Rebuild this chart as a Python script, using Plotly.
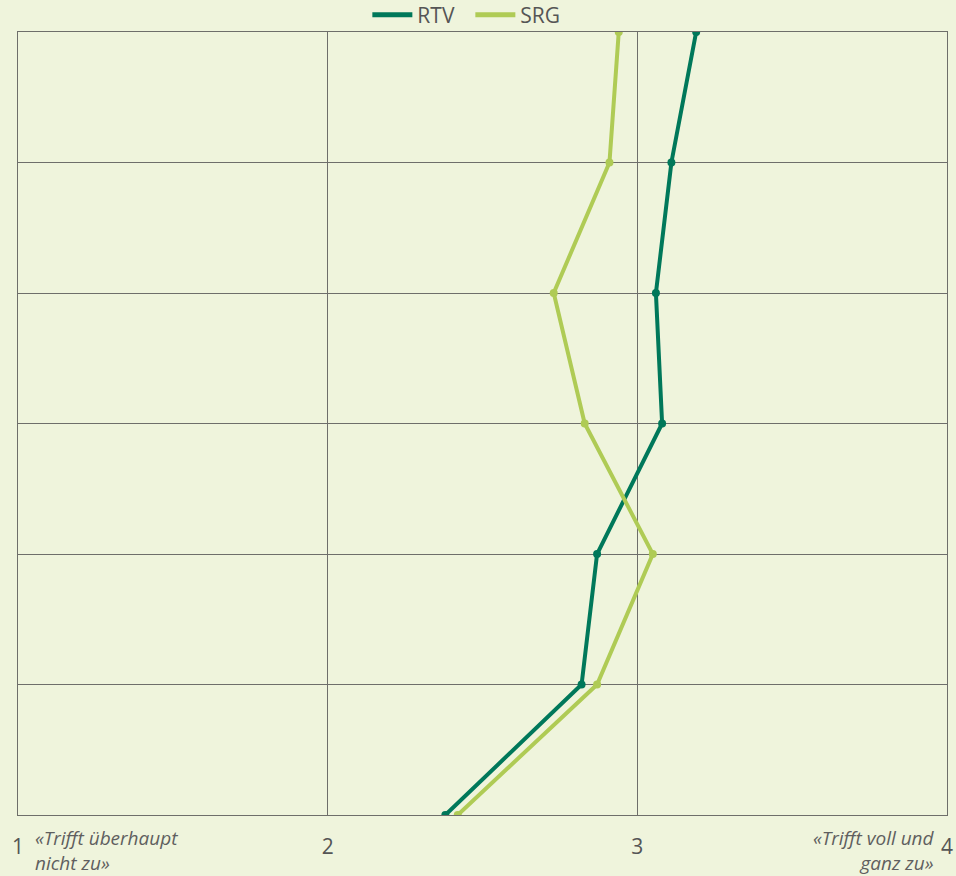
import plotly.graph_objects as go

categories = ["Item 1", "Item 2", "Item 3", "Item 4", "Item 5", "Item 6", "Item 7"]
rtv_values = [3.19, 3.11, 3.06, 3.08, 2.87, 2.82, 2.38]
srg_values = [2.94, 2.91, 2.73, 2.83, 3.05, 2.87, 2.42]
tick_values = [1, 2, 3, 4]
tick_labels = ["1", "2", "3", "4"]
low_label = "«Trifft überhaupt<br>nicht zu»"
high_label = "«Trifft voll und<br>ganz zu»"

BG = "#eff4dc"
GRID = "#6e6e6a"
FONT = "'Open Sans', Lato, sans-serif"
RTV_C = "#00785a"
SRG_C = "#afcb55"

fig = go.Figure()
fig.add_trace(go.Scatter(
    x=rtv_values, y=categories, name="RTV", mode="lines+markers", showlegend=False,
    line=dict(color=RTV_C, width=4), marker=dict(size=8, color=RTV_C),
))
fig.add_trace(go.Scatter(
    x=srg_values, y=categories, name="SRG", mode="lines+markers", showlegend=False,
    line=dict(color=SRG_C, width=4), marker=dict(size=8, color=SRG_C),
))
# legend entries (lines only)
fig.add_trace(go.Scatter(x=[None], y=[None], name="RTV", mode="lines",
                         line=dict(color=RTV_C, width=5)))
fig.add_trace(go.Scatter(x=[None], y=[None], name="SRG", mode="lines",
                         line=dict(color=SRG_C, width=5)))

fig.update_layout(
    width=956, height=876,
    paper_bgcolor=BG, plot_bgcolor=BG,
    margin=dict(l=18, r=9, t=32, b=61, autoexpand=False),
    font=dict(family=FONT, color="#555555"),
    showlegend=True,
    legend=dict(orientation="h", x=0.492, xanchor="center", xref="container",
                y=1 - 15 / 876, yanchor="middle", yref="container",
                font=dict(size=21, color="#555555"), bgcolor="rgba(0,0,0,0)",
                itemwidth=40, entrywidth=48, tracegroupgap=0),
    xaxis=dict(range=[1, 4], tickvals=tick_values, ticktext=tick_labels,
               showgrid=True, gridcolor=GRID, gridwidth=1,
               showline=True, linecolor=GRID, linewidth=1, mirror=True,
               zeroline=False, ticks="", tickfont=dict(size=21, color="#555555"),
               ticklabelstandoff=13, fixedrange=True),
    yaxis=dict(categoryorder="array", categoryarray=categories,
               autorange=False, range=[6, 0], showticklabels=False, showgrid=True,
               gridcolor=GRID, gridwidth=1, showline=True, linecolor=GRID,
               linewidth=1, mirror=True, zeroline=False, ticks=""),
)

fig.add_annotation(text="<i>" + low_label + "</i>", xref="paper", yref="paper",
                   x=0.016, y=0, xanchor="left", yanchor="top", yshift=-8,
                   align="left", showarrow=False,
                   font=dict(size=19, color="#5f5f5f", family=FONT))
fig.add_annotation(text="<i>" + high_label + "</i>", xref="paper", yref="paper",
                   x=0.989, y=0, xanchor="right", yanchor="top", yshift=-8,
                   align="right", showarrow=False,
                   font=dict(size=19, color="#5f5f5f", family=FONT))

fig.write_html("out.html", config={"displayModeBar": False},
               post_script="document.body.style.margin='0';")
